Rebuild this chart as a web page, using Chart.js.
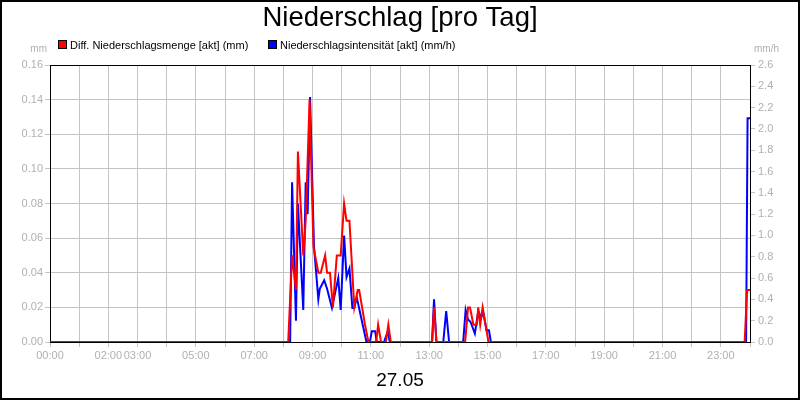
<!DOCTYPE html>
<html>
<head>
<meta charset="utf-8">
<script src="https://cdn.jsdelivr.net/npm/chart.js@4/dist/chart.umd.min.js"></script>
<style>
  html, body { margin: 0; padding: 0; background: #fff; }
  canvas { display: block; }
</style>
</head>
<body>
<canvas id="chart" width="800" height="400"></canvas>
<script>
const TITLE = "Niederschlag [pro Tag]";
const DATE_LABEL = "27.05";

// x tick labels shown under the hourly grid
const xTickLabels = ["00:00", "02:00", "03:00", "05:00", "07:00", "09:00", "11:00",
  "13:00", "15:00", "17:00", "19:00", "21:00", "23:00"];

// Diff. Niederschlagsmenge [akt] (mm)
const redTimes = ["00:00", "08:10", "08:18", "08:26", "08:30", "08:41", "08:46", "08:54",
  "09:02", "09:12", "09:17", "09:26", "09:30", "09:36", "09:42", "09:50", "09:58",
  "10:05", "10:10", "10:16", "10:26", "10:33", "10:36", "10:48", "10:55", "11:11",
  "11:15", "11:21", "11:31", "11:36", "11:41", "13:06", "13:10", "13:15", "14:14",
  "14:20", "14:24", "14:31", "14:38", "14:41", "14:45", "14:50", "15:02", "23:49",
  "23:54", "24:00"];
const redValues = [0, 0, 0.05, 0.03, 0.11, 0.05, 0.07, 0.14,
  0.055, 0.04, 0.04, 0.05, 0.04, 0.04, 0.02, 0.05, 0.05,
  0.08, 0.07, 0.07, 0.02, 0.03, 0.03, 0.01, 0, 0,
  0.01, 0, 0, 0.01, 0, 0, 0.02, 0, 0,
  0.02, 0.02, 0.01, 0.01, 0.02, 0.01, 0.02, 0, 0,
  0.03, 0.03];

// Niederschlagsintensität [akt] (mm/h)
const blueTimes = ["00:00", "08:14", "08:18", "08:26", "08:30", "08:41", "08:46", "08:50",
  "08:55", "09:03", "09:12", "09:15", "09:24", "09:30", "09:40", "09:53", "09:58",
  "10:05", "10:10", "10:16", "10:22", "10:26", "10:31", "10:51", "10:58", "11:02",
  "11:09", "11:12", "11:27", "11:35", "11:39", "13:06", "13:10", "13:15", "13:29",
  "13:35", "13:41", "14:10", "14:15", "14:20", "14:25", "14:34", "14:41", "14:47",
  "14:51", "14:58", "15:03", "15:07", "23:52", "23:55", "24:00"];
const blueValues = [0, 0, 1.5, 0.2, 1.3, 0.3, 1.5, 1.2,
  2.3, 0.9, 0.4, 0.5, 0.58, 0.5, 0.32, 0.6, 0.3,
  1.0, 0.61, 0.69, 0.32, 0.32, 0.42, 0, 0, 0.1,
  0.1, 0, 0, 0.1, 0, 0, 0.4, 0, 0,
  0.29, 0, 0, 0.3, 0.21, 0.19, 0.08, 0.29, 0.23,
  0.28, 0.11, 0.11, 0, 0, 2.1, 2.1];

const FONT = "'Liberation Sans', Arial, sans-serif";
const GRAY_TEXT = "#b0b0b0";
const GRID = "#c4c4c4";

function toMinutes(s) {
  const [h, m] = s.split(":").map(Number);
  return h * 60 + m;
}

function points(times, values) {
  return times.map((t, i) => ({ x: toMinutes(t), y: values[i] }));
}

// title, legend, unit labels, date and frame
const decorations = {
  id: "decorations",
  beforeDraw(chart) {
    const c = chart.ctx;
    c.save();
    c.fillStyle = "#fff";
    c.fillRect(0, 0, chart.width, chart.height);
    c.restore();
  },
  afterDraw(chart) {
    const c = chart.ctx;
    const area = chart.chartArea;
    c.save();

    c.fillStyle = "#000";
    c.textAlign = "center";
    c.textBaseline = "alphabetic";
    c.font = "27.5px " + FONT;
    c.fillText(TITLE, 400, 26);

    c.font = "19px " + FONT;
    c.fillText(DATE_LABEL, 400, 386);

    // legend
    c.font = "11px " + FONT;
    c.textAlign = "left";
    let x = 58;
    chart.data.datasets.forEach((ds, i) => {
      c.fillStyle = ds.borderColor;
      c.fillRect(x, 40, 9, 9);
      c.strokeStyle = "#000";
      c.lineWidth = 1;
      c.strokeRect(x + 0.5, 40.5, 8, 8);
      c.fillStyle = "#000";
      c.fillText(ds.label, x + 12, 49);
      x = 268;
    });

    // units
    c.fillStyle = GRAY_TEXT;
    c.font = "10px " + FONT;
    c.textAlign = "right";
    c.fillText("mm", 47, 52);
    c.textAlign = "left";
    c.fillText("mm/h", 754, 52);

    // plot frame top
    c.strokeStyle = "#000";
    c.lineWidth = 1;
    c.beginPath();
    c.moveTo(area.left, area.top + 0.5);
    c.lineTo(area.right, area.top + 0.5);
    c.stroke();

    // outer frame
    c.lineWidth = 2;
    c.strokeRect(1, 1, chart.width - 2, chart.height - 2);
    c.restore();
  }
};

new Chart(document.getElementById("chart"), {
  type: "line",
  data: {
    datasets: [
      {
        label: "Diff. Niederschlagsmenge [akt] (mm)",
        data: points(redTimes, redValues),
        borderColor: "#ff0000",
        backgroundColor: "#ff0000",
        borderWidth: 2,
        pointRadius: 0,
        tension: 0,
        fill: false,
        yAxisID: "y"
      },
      {
        label: "Niederschlagsintensität [akt] (mm/h)",
        data: points(blueTimes, blueValues),
        borderColor: "#0000ff",
        backgroundColor: "#0000ff",
        borderWidth: 2,
        pointRadius: 0,
        tension: 0,
        fill: false,
        yAxisID: "y1"
      }
    ]
  },
  options: {
    responsive: false,
    animation: false,
    devicePixelRatio: 1,
    layout: { padding: { top: 65, left: 0, right: 0, bottom: 0 } },
    plugins: {
      legend: { display: false },
      title: { display: false },
      tooltip: { enabled: false }
    },
    scales: {
      x: {
        type: "linear",
        min: 0,
        max: 1440,
        afterFit(scale) { scale.height = 58; },
        afterBuildTicks(scale) {
          scale.ticks = [];
          for (let m = 0; m <= 1440; m += 60) scale.ticks.push({ value: m });
        },
        grid: { color: GRID, tickColor: GRID, tickLength: 5 },
        border: { color: "#000" },
        ticks: {
          autoSkip: false,
          maxRotation: 0,
          padding: 2,
          color: GRAY_TEXT,
          font: { family: FONT, size: 11 },
          callback(v) {
            const h = String(Math.floor(v / 60)).padStart(2, "0") + ":00";
            return xTickLabels.includes(h) && v < 1440 ? h : "";
          }
        }
      },
      y: {
        position: "left",
        min: 0,
        max: 0.16,
        afterFit(scale) { scale.width = 50; },
        grid: { color: GRID, tickColor: GRID, tickLength: 5 },
        border: { color: "#000" },
        ticks: {
          stepSize: 0.02,
          padding: 2,
          color: GRAY_TEXT,
          font: { family: FONT, size: 11 },
          callback: v => v.toFixed(2)
        }
      },
      y1: {
        position: "right",
        min: 0,
        max: 2.6,
        afterFit(scale) { scale.width = 50; },
        grid: { drawOnChartArea: false, tickColor: GRID, tickLength: 5 },
        border: { color: "#000" },
        ticks: {
          stepSize: 0.2,
          padding: 3,
          color: GRAY_TEXT,
          font: { family: FONT, size: 11 },
          callback: v => v.toFixed(1)
        }
      }
    }
  },
  plugins: [decorations]
});
</script>
</body>
</html>
